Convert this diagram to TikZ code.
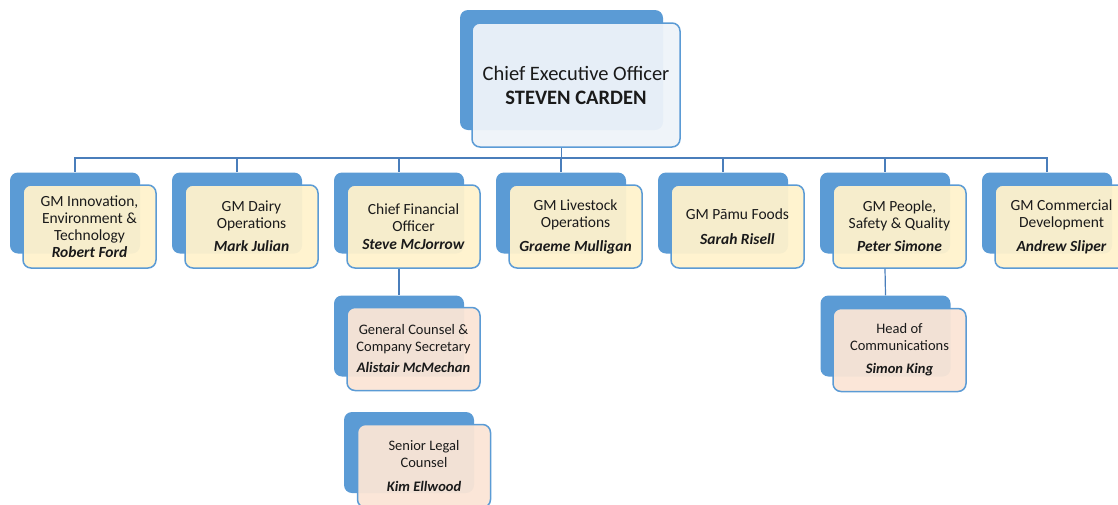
\documentclass[tikz,border=0pt]{standalone}
\usepackage{fontspec}
\setmainfont{Carlito}
\usepackage{tikz}
\usetikzlibrary{positioning}
\definecolor{boxblue}{HTML}{5B9BD5}
\definecolor{linkblue}{HTML}{4A7EBB}
\definecolor{gmfill}{HTML}{FFF2CC}
\definecolor{subfill}{HTML}{FBE5D6}
\definecolor{ceofill}{HTML}{EEF3F9}
\definecolor{txt}{HTML}{1A1A1A}

\begin{document}
\begin{tikzpicture}[x=1pt, y=-1pt,
  back/.style={rectangle, rounded corners=8pt, fill=boxblue, minimum width=130pt, minimum height=81pt, inner sep=0pt},
  front/.style={rectangle, rounded corners=8pt, draw=boxblue, line width=1.5pt, fill opacity=0.95, text opacity=1, minimum width=133pt, minimum height=83pt, inner sep=0pt, align=center, text=txt, font=\fontsize{15.5}{17}\selectfont},
  gm/.style={front, fill=gmfill},
  sub/.style={front, fill=subfill, font=\fontsize{14.5}{17}\selectfont},
  link/.style={draw=linkblue, line width=1.2pt}]

\useasboundingbox (0,0) rectangle (1118,504);
\clip (0,0) rectangle (1118,504);

\node[back, minimum width=203pt, minimum height=120pt] (ceob) at (561.5,70) {};
\node[back] (gm1b) at (75,213) {};
\node[back] (gm2b) at (237,213) {};
\node[back] (gm3b) at (399,213) {};
\node[back] (gm4b) at (561,213) {};
\node[back] (gm5b) at (723,213) {};
\node[back] (gm6b) at (885,213) {};
\node[back] (gm7b) at (1047,213) {};
\node[back] (gcb) at (399,336) {};
\node[back] (hcb) at (885.5,336) {};
\node[back] (slb) at (409,452.5) {};

\node[front, fill=ceofill, minimum width=208pt, minimum height=124pt, font=\fontsize{20.5}{24}\selectfont] (ceo) at (576,85)
  {Chief Executive Officer\\\textbf{STEVEN CARDEN}};

\coordinate (bus) at (561.5,158);
\draw[link] (ceob.south |- ceo.south) -- (bus);
\draw[link] (bus) -| (gm1b.north);
\draw[link] (bus) -| (gm2b.north);
\draw[link] (bus) -| (gm3b.north);
\draw[link] (bus) -| (gm4b.north);
\draw[link] (bus) -| (gm5b.north);
\draw[link] (bus) -| (gm6b.north);
\draw[link] (bus) -| (gm7b.north);

\node[gm] (gm1) at (89.5,226.5)
  {GM Innovation,\\Environment \&\\Technology\\\textbf{\textit{Robert Ford}}};
\node[gm] (gm2) at (251.5,226.5)
  {GM Dairy\\Operations\\[6pt]\textbf{\textit{Mark Julian}}};
\node[gm] (gm3) at (413.5,226.5)
  {Chief Financial\\Officer\\[1pt]\textbf{\textit{Steve McJorrow}}};
\node[gm] (gm4) at (575.5,226.5)
  {GM Livestock\\Operations\\[7pt]\textbf{\textit{Graeme Mulligan}}};
\node[gm] (gm5) at (737.5,226.5)
  {GM Pāmu Foods\\[8pt]\textbf{\textit{Sarah Risell}}};
\node[gm] (gm6) at (899.5,226.5)
  {GM People,\\Safety \& Quality\\[6pt]\textbf{\textit{Peter Simone}}};
\node[gm] (gm7) at (1061.5,226.5)
  {GM Commercial\\Development\\[7pt]\textbf{\textit{Andrew Sliper}}};

\draw[link] (gm3b.south |- gm3.south) -- (gcb.north);
\draw[link] (gm6b.south |- gm6.south) -- (hcb.north);

\node[sub] (gc) at (413.5,349)
  {General Counsel \&\\Company Secretary\\[4pt]\textbf{\textit{Alistair McMechan}}};
\node[sub] (hc) at (899.5,350)
  {Head of\\Communications\\[6pt]\textbf{\textit{Simon King}}};
\node[sub] (sl) at (424,466)
  {Senior Legal\\Counsel\\[7pt]\textbf{\textit{Kim Ellwood}}};

\end{tikzpicture}
\end{document}
